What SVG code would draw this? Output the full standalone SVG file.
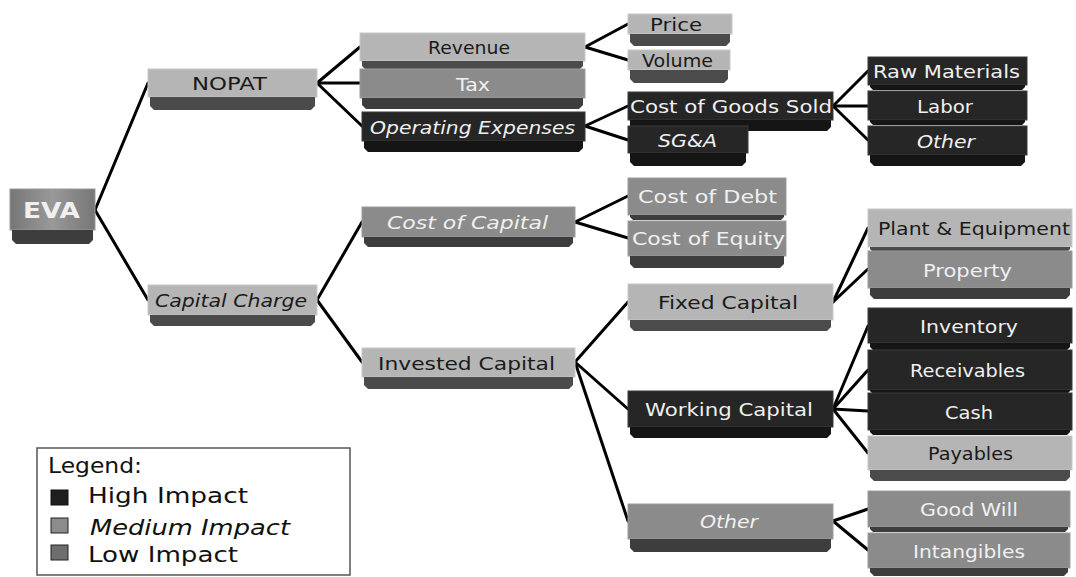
<svg xmlns="http://www.w3.org/2000/svg" width="1076" height="577" viewBox="0 0 1076 577">
<style>
.fl{fill:#b5b5b5;stroke:#c8c8c8;stroke-width:1}
.bl{fill:#4b4b4b}
.fm{fill:#8b8b8b;stroke:#9c9c9c;stroke-width:1}
.bm{fill:#3d3d3d}
.fd{fill:#262626;stroke:#3a3a3a;stroke-width:1}
.bd{fill:#151515}
text{font-family:"DejaVu Sans","Liberation Sans",sans-serif;font-size:18px}
.td{fill:#1a1a1a}
.tw{fill:#f0f0f0}
.lg{font-size:21px;fill:#111}
#connectors line{stroke:#000;stroke-width:3;stroke-linecap:round}
</style>
<defs>
<linearGradient id="evag" x1="0" y1="0" x2="1" y2="0">
<stop offset="0" stop-color="#767676"/>
<stop offset="0.5" stop-color="#999"/>
<stop offset="1" stop-color="#767676"/>
</linearGradient>
</defs>
<rect width="1076" height="577" fill="#fff"/>
<g id="connectors">
<line x1="95" y1="210" x2="148" y2="83"/>
<line x1="95" y1="210" x2="148" y2="300"/>
<line x1="317" y1="83" x2="360" y2="47"/>
<line x1="317" y1="83" x2="360" y2="83"/>
<line x1="317" y1="83" x2="362" y2="126"/>
<line x1="585" y1="47" x2="628" y2="24"/>
<line x1="585" y1="47" x2="628" y2="60"/>
<line x1="585" y1="126" x2="628" y2="106"/>
<line x1="585" y1="126" x2="628" y2="140"/>
<line x1="833" y1="106" x2="868" y2="71"/>
<line x1="833" y1="106" x2="868" y2="106"/>
<line x1="833" y1="106" x2="868" y2="140"/>
<line x1="317" y1="300" x2="362" y2="222"/>
<line x1="317" y1="300" x2="362" y2="362"/>
<line x1="575" y1="222" x2="628" y2="196"/>
<line x1="575" y1="222" x2="628" y2="238"/>
<line x1="575" y1="362" x2="628" y2="302"/>
<line x1="575" y1="362" x2="628" y2="409"/>
<line x1="575" y1="362" x2="628" y2="521"/>
<line x1="833" y1="302" x2="868" y2="228"/>
<line x1="833" y1="302" x2="868" y2="269"/>
<line x1="833" y1="409" x2="868" y2="326"/>
<line x1="833" y1="409" x2="868" y2="370"/>
<line x1="833" y1="409" x2="868" y2="411"/>
<line x1="833" y1="409" x2="868" y2="453"/>
<line x1="833" y1="521" x2="868" y2="509"/>
<line x1="833" y1="521" x2="868" y2="550"/>
</g>
<g id="n-eva"><rect x="10" y="189" width="85" height="41" fill="url(#evag)" stroke="#9a9a9a"/><path class="bm" d="M12,230H93V240L89,244H16L12,240Z"/><text x="23" y="218" class="tw" style="font-size:22px;font-weight:bold" textLength="57" lengthAdjust="spacingAndGlyphs">EVA</text></g>
<g id="n-nopat"><rect class="fl" x="148" y="69" width="169" height="28"/><path class="bl" d="M150,97H315V106L311,110H154L150,106Z"/><text x="192" y="90" class="td" textLength="75" lengthAdjust="spacingAndGlyphs">NOPAT</text></g>
<g id="n-capcharge"><rect class="fl" x="148" y="285" width="169" height="30"/><path class="bl" d="M150,315H315V322L311,326H154L150,322Z"/><text x="155" y="307" class="td" textLength="152" lengthAdjust="spacingAndGlyphs" font-style="italic">Capital Charge</text></g>
<g id="n-revenue"><rect class="fl" x="360" y="33" width="225" height="28"/><path class="bl" d="M362,61H583V66L580,69H365L362,66Z"/><text x="428" y="54" class="td" textLength="82" lengthAdjust="spacingAndGlyphs">Revenue</text></g>
<g id="n-tax"><rect class="fm" x="360" y="69" width="225" height="29"/><path class="bm" d="M362,98H583V105L579,109H366L362,105Z"/><text x="456" y="91" class="tw" textLength="34" lengthAdjust="spacingAndGlyphs">Tax</text></g>
<g id="n-opex"><rect class="fd" x="362" y="112" width="223" height="29"/><path class="bd" d="M364,141H583V148L579,152H368L364,148Z"/><text x="370" y="134" class="tw" textLength="205" lengthAdjust="spacingAndGlyphs" font-style="italic">Operating Expenses</text></g>
<g id="n-coc"><rect class="fm" x="362" y="207" width="213" height="30"/><path class="bm" d="M364,237H573V243L569,247H368L364,243Z"/><text x="387" y="229" class="tw" textLength="161" lengthAdjust="spacingAndGlyphs" font-style="italic">Cost of Capital</text></g>
<g id="n-invcap"><rect class="fl" x="362" y="348" width="213" height="29"/><path class="bl" d="M364,377H573V385L569,389H368L364,385Z"/><text x="378" y="370" class="td" textLength="177" lengthAdjust="spacingAndGlyphs">Invested Capital</text></g>
<g id="n-price"><rect class="fl" x="628" y="14" width="104" height="20"/><path class="bl" d="M630,34H730V42L726,46H634L630,42Z"/><text x="650" y="31" class="td" textLength="52" lengthAdjust="spacingAndGlyphs">Price</text></g>
<g id="n-volume"><rect class="fl" x="628" y="50" width="102" height="20"/><path class="bl" d="M630,70H728V79L724,83H634L630,79Z"/><text x="642" y="67" class="td" textLength="71" lengthAdjust="spacingAndGlyphs">Volume</text></g>
<g id="n-cogs"><rect class="fd" x="628" y="92" width="205" height="28"/><path class="bd" d="M630,120H831V127L827,131H634L630,127Z"/><text x="630" y="113" class="tw" textLength="202" lengthAdjust="spacingAndGlyphs">Cost of Goods Sold</text></g>
<g id="n-sga"><rect class="fd" x="628" y="126" width="120" height="27"/><path class="bd" d="M630,153H746V162L742,166H634L630,162Z"/><text x="658" y="147" class="tw" textLength="59" lengthAdjust="spacingAndGlyphs" font-style="italic">SG&amp;A</text></g>
<g id="n-cod"><rect class="fm" x="628" y="178" width="158" height="37"/><path class="bm" d="M630,215H784V217L781,220H633L630,217Z"/><text x="638" y="203" class="tw" textLength="139" lengthAdjust="spacingAndGlyphs">Cost of Debt</text></g>
<g id="n-coe"><rect class="fm" x="628" y="221" width="158" height="35"/><path class="bm" d="M630,256H784V264L780,268H634L630,264Z"/><text x="632" y="245" class="tw" textLength="153" lengthAdjust="spacingAndGlyphs">Cost of Equity</text></g>
<g id="n-fixed"><rect class="fl" x="628" y="284" width="205" height="36"/><path class="bl" d="M630,320H831V327L827,331H634L630,327Z"/><text x="658" y="309" class="td" textLength="140" lengthAdjust="spacingAndGlyphs">Fixed Capital</text></g>
<g id="n-working"><rect class="fd" x="628" y="391" width="205" height="36"/><path class="bd" d="M630,427H831V434L827,438H634L630,434Z"/><text x="645" y="416" class="tw" textLength="168" lengthAdjust="spacingAndGlyphs">Working Capital</text></g>
<g id="n-otheric"><rect class="fm" x="628" y="504" width="205" height="35"/><path class="bm" d="M630,539H831V548L827,552H634L630,548Z"/><text x="700" y="528" class="tw" textLength="58" lengthAdjust="spacingAndGlyphs" font-style="italic">Other</text></g>
<g id="n-raw"><rect class="fd" x="868" y="57" width="159" height="28"/><path class="bd" d="M870,85H1025V87L1022,90H873L870,87Z"/><text x="873" y="78" class="tw" textLength="147" lengthAdjust="spacingAndGlyphs">Raw Materials</text></g>
<g id="n-labor"><rect class="fd" x="868" y="91" width="159" height="29"/><path class="bd" d="M870,120H1025V122L1022,125H873L870,122Z"/><text x="917" y="113" class="tw" textLength="56" lengthAdjust="spacingAndGlyphs">Labor</text></g>
<g id="n-other"><rect class="fd" x="868" y="126" width="159" height="29"/><path class="bd" d="M870,155H1025V162L1021,166H874L870,162Z"/><text x="917" y="148" class="tw" textLength="58" lengthAdjust="spacingAndGlyphs" font-style="italic">Other</text></g>
<g id="n-plant"><rect class="fl" x="868" y="209" width="204" height="38"/><path class="bl" d="M870,247H1070V249L1067,252H873L870,249Z"/><text x="878" y="235" class="td" textLength="192" lengthAdjust="spacingAndGlyphs">Plant &amp; Equipment</text></g>
<g id="n-property"><rect class="fm" x="868" y="251" width="204" height="37"/><path class="bm" d="M870,288H1070V295L1066,299H874L870,295Z"/><text x="923" y="277" class="tw" textLength="89" lengthAdjust="spacingAndGlyphs">Property</text></g>
<g id="n-inventory"><rect class="fd" x="868" y="308" width="204" height="35"/><path class="bd" d="M870,343H1070V347L1067,350H873L870,347Z"/><text x="920" y="333" class="tw" textLength="98" lengthAdjust="spacingAndGlyphs">Inventory</text></g>
<g id="n-receivables"><rect class="fd" x="868" y="350" width="204" height="40"/><path class="bd" d="M870,390H1070V391L1068,393H872L870,391Z"/><text x="910" y="377" class="tw" textLength="115" lengthAdjust="spacingAndGlyphs">Receivables</text></g>
<g id="n-cash"><rect class="fd" x="868" y="393" width="204" height="37"/><path class="bd" d="M870,430H1070V432L1067,435H873L870,432Z"/><text x="945" y="419" class="tw" textLength="48" lengthAdjust="spacingAndGlyphs">Cash</text></g>
<g id="n-payables"><rect class="fl" x="868" y="436" width="204" height="34"/><path class="bl" d="M870,470H1070V477L1066,481H874L870,477Z"/><text x="928" y="460" class="td" textLength="85" lengthAdjust="spacingAndGlyphs">Payables</text></g>
<g id="n-goodwill"><rect class="fm" x="868" y="491" width="202" height="36"/><path class="bm" d="M870,527H1068V529L1065,532H873L870,529Z"/><text x="920" y="516" class="tw" textLength="98" lengthAdjust="spacingAndGlyphs">Good Will</text></g>
<g id="n-intangibles"><rect class="fm" x="868" y="533" width="202" height="35"/><path class="bm" d="M870,568H1068V572L1064,576H874L870,572Z"/><text x="913" y="558" class="tw" textLength="112" lengthAdjust="spacingAndGlyphs">Intangibles</text></g>
<g id="legend">
<rect x="37" y="448" width="313" height="127" fill="#fff" stroke="#555" stroke-width="1.5"/>
<text x="48" y="473" class="lg" textLength="94" lengthAdjust="spacingAndGlyphs">Legend:</text>
<rect x="51" y="490" width="17" height="15" fill="#1e1e1e" stroke="#111"/>
<text x="88" y="503" class="lg" textLength="160" lengthAdjust="spacingAndGlyphs">High Impact</text>
<rect x="51" y="518" width="17" height="15" fill="#8c8c8c" stroke="#222"/>
<text x="90" y="535" class="lg" textLength="200" lengthAdjust="spacingAndGlyphs" font-style="italic">Medium Impact</text>
<rect x="51" y="545" width="17" height="15" fill="#6e6e6e" stroke="#222"/>
<text x="88" y="562" class="lg" textLength="150" lengthAdjust="spacingAndGlyphs">Low Impact</text>
</g>
</svg>
